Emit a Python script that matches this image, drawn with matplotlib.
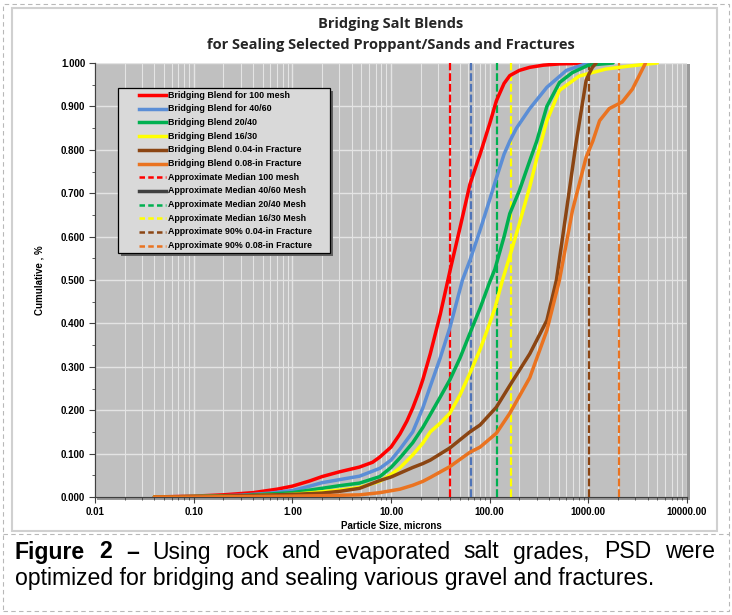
import numpy as np
import matplotlib
matplotlib.use("Agg")
import matplotlib.pyplot as plt
from matplotlib.lines import Line2D
from matplotlib.patches import Rectangle
from matplotlib.ticker import FixedLocator, LogLocator, NullFormatter, MultipleLocator

# ---------------- data ----------------
red_x = [0.04, 0.1, 0.2, 0.4, 0.7, 1.0, 1.5, 2.0, 3.0, 4.8, 6.5, 7.7, 10, 12.3, 14.5, 16.6, 19, 21, 25, 31.5,
         39.5, 50, 63, 80, 100, 117, 140, 160, 200, 255, 350, 515, 800, 1300]
red_y = [0, 0.002, 0.005, 0.010, 0.018, 0.025, 0.037, 0.047, 0.058, 0.069, 0.080, 0.092, 0.115, 0.145, 0.175,
         0.205, 0.24, 0.27, 0.33, 0.42, 0.52, 0.62, 0.72, 0.79, 0.86, 0.913, 0.953, 0.971, 0.983, 0.99, 0.995,
         0.998, 0.999, 1.0]

blue_x = [0.04, 0.1, 0.3, 0.6, 1.0, 1.5, 2.0, 3.0, 4.8, 7.7, 10, 12.3, 16.6, 21, 25, 31.5, 39.5, 53, 63, 80,
          100, 117, 140, 160, 187, 255, 380, 600, 1000]
blue_y = [0, 0.001, 0.004, 0.009, 0.015, 0.025, 0.033, 0.040, 0.048, 0.066, 0.085, 0.11, 0.15, 0.205, 0.255,
          0.32, 0.39, 0.50, 0.545, 0.615, 0.685, 0.735, 0.79, 0.82, 0.85, 0.895, 0.944, 0.983, 1.0]

green_x = [0.04, 0.1, 0.3, 1.0, 2.0, 3.0, 4.8, 7.7, 10, 12.3, 16.6, 21, 25, 31.5, 39.5, 50, 63, 80, 100, 113,
           140, 160, 200, 255, 300, 380, 510, 690, 1000, 1780]
green_y = [0, 0.001, 0.003, 0.010, 0.02, 0.026, 0.032, 0.047, 0.068, 0.09, 0.125, 0.16, 0.19, 0.23, 0.27, 0.32,
           0.377, 0.435, 0.495, 0.525, 0.60, 0.653, 0.706, 0.775, 0.82, 0.90, 0.955, 0.978, 0.995, 1.0]

yellow_x = [0.04, 0.1, 0.3, 1.0, 2.0, 3.0, 4.8, 7.7, 10, 12.3, 16.6, 21, 25, 31.5, 39.5, 50, 63, 80, 100, 113,
            135, 160, 200, 255, 300, 380, 510, 810, 1500, 2600, 5000]
yellow_y = [0, 0.001, 0.002, 0.006, 0.012, 0.016, 0.022, 0.036, 0.052, 0.067, 0.097, 0.124, 0.15, 0.17, 0.193,
            0.235, 0.285, 0.34, 0.40, 0.435, 0.50, 0.555, 0.63, 0.715, 0.78, 0.867, 0.937, 0.97, 0.986, 0.993, 1.0]

brown_x = [0.04, 0.1, 0.3, 1.0, 2.0, 3.0, 4.8, 7.7, 10, 12.3, 16.6, 21, 25, 39.5, 63, 80, 117, 160, 255, 380,
           475, 600, 750, 950, 1016, 1100, 1200]
brown_y = [0, 0.001, 0.003, 0.006, 0.009, 0.013, 0.02, 0.038, 0.046, 0.055, 0.068, 0.077, 0.085, 0.113, 0.15,
           0.166, 0.207, 0.257, 0.33, 0.407, 0.50, 0.66, 0.815, 0.96, 0.975, 0.99, 1.0]

orange_x = [0.04, 0.1, 0.3, 1.0, 2.0, 3.0, 4.8, 7.7, 12.3, 16.6, 21, 25, 39.5, 63, 80, 117, 160, 255, 380, 510,
            690, 950, 1110, 1300, 1630, 2200, 2800, 3800]
orange_y = [0, 0, 0.001, 0.002, 0.003, 0.004, 0.005, 0.010, 0.018, 0.027, 0.036, 0.045, 0.07, 0.103, 0.115,
            0.147, 0.193, 0.275, 0.384, 0.50, 0.66, 0.783, 0.82, 0.867, 0.895, 0.91, 0.94, 1.0]

# vertical reference sizes (microns)
median_100 = 40
median_4060 = 65
median_2040 = 118
median_1630 = 165
p90_004 = 1016
p90_008 = 2032

curve_labels = ["Bridging Blend for 100 mesh", "Bridging Blend for 40/60", "Bridging Blend 20/40",
                "Bridging Blend 16/30", "Bridging Blend 0.04-in Fracture", "Bridging Blend 0.08-in Fracture"]
vline_labels = ["Approximate Median 100 mesh", "Approximate Median 40/60 Mesh", "Approximate Median 20/40 Mesh",
                "Approximate Median 16/30 Mesh", "Approximate 90% 0.04-in Fracture", "Approximate 90% 0.08-in Fracture"]

x_tick_vals = [0.01, 0.1, 1, 10, 100, 1000, 10000]
x_tick_labels = ["0.01", "0.10", "1.00", "10.00", "100.00", "1000.00", "10000.00"]
y_tick_vals = [0.0, 0.1, 0.2, 0.3, 0.4, 0.5, 0.6, 0.7, 0.8, 0.9, 1.0]

# ---------------- style ----------------
c_red = "#ff0000"
c_blue = "#5b8ed6"
c_blue_d = "#4f74b8"
c_green = "#00b050"
c_yellow = "#ffff00"
c_brown = "#8b4513"
c_orange = "#ea7320"

W, H = 732, 615
fig = plt.figure(figsize=(W / 100, H / 100), dpi=100)
fig.patch.set_facecolor("white")

def fx(px):
    return px / W

def fy(py):
    return 1 - py / H

def px_rect(x0, y0, x1, y1):
    return [x0 / W, 1 - y1 / H, (x1 - x0) / W, (y1 - y0) / H]

# outer dashed border, separator and chart frame
fig.patches.append(Rectangle((fx(3), fy(611)), 726 / W, 607 / H, transform=fig.transFigure,
                             fill=False, ec="#b8b8b8", lw=0.8, ls=(0, (4, 3))))
fig.lines.append(Line2D([fx(3), fx(729)], [fy(534), fy(534)], transform=fig.transFigure,
                        color="#b8b8b8", lw=0.8, ls=(0, (4, 3))))
fig.patches.append(Rectangle((fx(12), fy(531)), 705 / W, 523 / H, transform=fig.transFigure,
                             fill=False, ec="#d0d0d0", lw=1.5))

ax = fig.add_axes(px_rect(95, 63, 687, 497))
ax.set_facecolor("#c0c0c0")
fig.patches.append(Rectangle((fx(97), fy(500)), 593 / W, 436 / H, transform=fig.transFigure,
                             fc="#9a9a9a", ec="none", zorder=-1))

ax.set_xscale("log")
ax.set_xlim(0.01, 10000)
ax.set_ylim(0, 1.0)

ax.xaxis.set_major_locator(FixedLocator(x_tick_vals))
ax.set_xticks(x_tick_vals)
ax.set_xticklabels(x_tick_labels)
ax.xaxis.set_minor_locator(LogLocator(base=10, subs=np.arange(2, 10), numticks=100))
ax.xaxis.set_minor_formatter(NullFormatter())
ax.set_yticks(y_tick_vals)
ax.set_yticklabels([f"{v:.3f}" for v in y_tick_vals])
ax.yaxis.set_minor_locator(MultipleLocator(0.05))

ax.grid(True, which="major", axis="both", color="#e4e4e4", lw=1.0)
ax.grid(True, which="minor", axis="x", color="#e4e4e4", lw=0.8)
ax.set_axisbelow(True)

for s in ["top", "right"]:
    ax.spines[s].set_visible(False)
for s in ["left", "bottom"]:
    ax.spines[s].set_color("#404040")
    ax.spines[s].set_linewidth(0.9)

ax.tick_params(axis="both", which="major", direction="out", length=4, width=0.8, color="#404040",
               labelsize=7, pad=3)
ax.tick_params(axis="both", which="minor", direction="out", length=2.5, width=0.6, color="#404040")
for lab in ax.get_xticklabels() + ax.get_yticklabels():
    lab.set_fontweight("bold")
    lab.set_family("Liberation Sans")

ax.set_xlabel("Particle Size, microns", fontsize=7, fontweight="bold", family="Liberation Sans", labelpad=2.5)
ax.set_ylabel("Cumulative , %", fontsize=7, fontweight="bold", family="Liberation Sans", labelpad=12)

lw = 2.5
series = [(red_x, red_y, c_red), (blue_x, blue_y, c_blue), (green_x, green_y, c_green),
          (yellow_x, yellow_y, c_yellow), (brown_x, brown_y, c_brown), (orange_x, orange_y, c_orange)]
for xs, ys, col in series:
    ax.plot(xs, ys, color=col, lw=lw, solid_capstyle="round", solid_joinstyle="round", zorder=5)

dash = (0, (3.5, 1.3))
vlw = 1.6
vls = [(median_100, c_red), (median_4060, c_blue_d), (median_2040, c_green), (median_1630, c_yellow),
       (p90_004, c_brown), (p90_008, c_orange)]
for xv, col in vls:
    ax.plot([xv, xv], [0, 1.0], color=col, lw=vlw, ls=dash, zorder=4)

# ---------------- legend (drawn manually for exact padding) ----------------
lx0, ly0, lx1, ly1 = 118, 88, 330, 253
fig.patches.append(Rectangle((fx(lx0 + 3), fy(ly1 + 3)), (lx1 - lx0) / W, (ly1 - ly0) / H,
                             transform=fig.transFigure, fc="#606060", ec="none", zorder=20))
fig.patches.append(Rectangle((fx(lx0), fy(ly1)), (lx1 - lx0) / W, (ly1 - ly0) / H,
                             transform=fig.transFigure, fc="#d9d9d9", ec="black", lw=0.9, zorder=21))
leg_styles = [(c_red, "-", 2.5), (c_blue, "-", 2.5), (c_green, "-", 2.5), (c_yellow, "-", 2.5),
              (c_brown, "-", 2.5), (c_orange, "-", 2.5),
              (c_red, (0, (2.2, 1.3)), 1.8), ("#404040", "-", 2.5), (c_green, (0, (2.2, 1.3)), 1.8),
              (c_yellow, (0, (2.2, 1.3)), 1.8), (c_brown, (0, (2.2, 1.3)), 1.8), (c_orange, (0, (2.2, 1.3)), 1.8)]
labels = curve_labels + vline_labels
for i, (lab, (col, ls, lwi)) in enumerate(zip(labels, leg_styles)):
    yy = 95 + i * 13.7
    fig.lines.append(Line2D([fx(139), fx(166)], [fy(yy), fy(yy)], transform=fig.transFigure,
                            color=col, ls=ls, lw=lwi, zorder=22))
    fig.text(fx(168), fy(yy), lab, ha="left", va="center", fontsize=6.4, fontweight="bold",
             family="Liberation Sans", color="black", zorder=22)

fig.text(fx(391), fy(24), "Bridging Salt Blends", ha="center", va="center", fontsize=10.5,
         fontweight="bold", family="Open Sans", color="#262626")
fig.text(fx(391), fy(45), "for Sealing Selected Proppant/Sands and Fractures", ha="center", va="center",
         fontsize=10.5, fontweight="bold", family="Open Sans", color="#262626")

# ---------------- caption (justified first line) ----------------
cap_font = "Liberation Sans"
cap_size = 16.6
line1 = [("Figure", "bold"), ("2", "bold"), ("\u2013", "bold"), ("Using", "normal"), ("rock", "normal"),
         ("and", "normal"), ("evaporated", "normal"), ("salt", "normal"), ("grades,", "normal"),
         ("PSD", "normal"), ("were", "normal")]
line2 = "optimized for bridging and sealing various gravel and fractures."
x_left, x_right = 15, 715
y1, y2 = 552, 579
renderer = fig.canvas.get_renderer()
texts = []
widths = []
for w, wt in line1:
    t = fig.text(0, fy(y1), w, ha="left", va="center", fontsize=cap_size, fontweight=wt, family=cap_font)
    bb = t.get_window_extent(renderer=renderer)
    texts.append(t)
    widths.append(bb.width)
gap = (x_right - x_left - sum(widths)) / (len(widths) - 1)
xc = x_left
for t, wd in zip(texts, widths):
    t.set_x(fx(xc))
    xc += wd + gap
fig.text(fx(x_left), fy(y2), line2, ha="left", va="center", fontsize=cap_size, family=cap_font)

fig.savefig("out.png", dpi=100)
